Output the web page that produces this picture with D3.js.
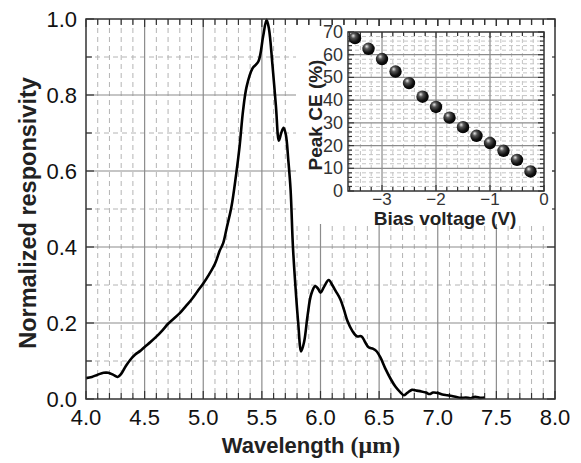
<!DOCTYPE html>
<html><head><meta charset="utf-8">
<script src="https://cdn.jsdelivr.net/npm/d3@7"></script>
<style>body{margin:0;background:#fff}svg{display:block;font-family:"Liberation Sans",Arial,sans-serif}</style>
</head><body><svg id="c" width="581" height="463"></svg>
<script>
// Main spectrum
const wavelength = [4.00,4.05,4.10,4.15,4.19,4.23,4.27,4.30,4.34,4.38,4.42,4.46,4.50,4.55,4.60,4.65,4.70,4.75,4.80,4.85,4.90,4.95,5.00,5.05,5.10,5.14,5.17,5.20,5.24,5.28,5.31,5.34,5.37,5.42,5.47,5.51,5.54,5.56,5.59,5.62,5.645,5.665,5.685,5.705,5.725,5.745,5.765,5.79,5.81,5.835,5.86,5.89,5.92,5.955,5.98,6.00,6.03,6.07,6.10,6.13,6.17,6.20,6.23,6.27,6.31,6.35,6.38,6.41,6.45,6.48,6.51,6.55,6.60,6.64,6.68,6.71,6.74,6.78,6.82,6.86,6.90,6.93,6.96,7.00,7.04,7.08,7.12,7.16,7.20,7.24,7.28,7.32,7.36,7.40];
const responsivity = [0.055,0.058,0.064,0.069,0.069,0.064,0.058,0.066,0.087,0.104,0.117,0.126,0.137,0.150,0.164,0.180,0.198,0.212,0.226,0.244,0.262,0.283,0.304,0.328,0.356,0.390,0.410,0.450,0.505,0.590,0.665,0.760,0.822,0.870,0.888,0.953,0.998,0.975,0.880,0.770,0.680,0.700,0.714,0.695,0.630,0.550,0.400,0.280,0.200,0.125,0.150,0.220,0.275,0.297,0.290,0.280,0.295,0.313,0.300,0.284,0.262,0.235,0.205,0.180,0.165,0.165,0.150,0.136,0.132,0.125,0.110,0.082,0.052,0.032,0.018,0.010,0.016,0.024,0.022,0.020,0.017,0.013,0.017,0.016,0.012,0.010,0.008,0.005,0.003,0.004,0.002,0.006,0.003,0.004];
const xTicks = [4.0,4.5,5.0,5.5,6.0,6.5,7.0,7.5,8.0];
const yTicks = [0.0,0.2,0.4,0.6,0.8,1.0];
// Inset
const biasVoltage = [-3.5,-3.25,-3.0,-2.75,-2.5,-2.25,-2.0,-1.75,-1.5,-1.25,-1.0,-0.75,-0.5,-0.25];
const peakCE = [67.3,62.6,58.1,52.6,47.5,41.5,37.0,32.3,28.1,24.3,21.1,17.7,13.7,8.6];
const insetXTicks = [-3,-2,-1,0];
const insetYTicks = [0,10,20,30,40,50,60,70];

const svg = d3.select("#c");
const M = {l:86, r:555, t:19, b:399};
const x = d3.scaleLinear().domain([4,8]).range([M.l,M.r]);
const y = d3.scaleLinear().domain([0,1]).range([M.b,M.t]);

const defs = svg.append("defs");
const grad = defs.append("radialGradient").attr("id","ball").attr("cx","40%").attr("cy","38%").attr("r","65%").attr("fx","35%").attr("fy","30%");
grad.append("stop").attr("offset","0%").attr("stop-color","#e8e8e8");
grad.append("stop").attr("offset","30%").attr("stop-color","#555");
grad.append("stop").attr("offset","70%").attr("stop-color","#111");
grad.append("stop").attr("offset","100%").attr("stop-color","#000");

const g = svg.append("g");
// minor grid
const xMinor = d3.range(41,80).map(d=>d/10).filter(d=>Math.abs(d*2-Math.round(d*2))>1e-6);
const yMinor = d3.range(1,10).map(d=>d/10).filter(d=>Math.abs(d*5-Math.round(d*5))>1e-6);
g.selectAll(".vm").data(xMinor).join("line").attr("x1",d=>x(d)).attr("x2",d=>x(d)).attr("y1",M.t).attr("y2",M.b)
  .attr("stroke","#b4b4b4").attr("stroke-width",1).attr("stroke-dasharray","5,4");
g.selectAll(".hm").data(yMinor).join("line").attr("y1",d=>y(d)).attr("y2",d=>y(d)).attr("x1",M.l).attr("x2",M.r)
  .attr("stroke","#b4b4b4").attr("stroke-width",1).attr("stroke-dasharray","5,4");
// major grid
g.selectAll(".vM").data(xTicks.slice(1,-1)).join("line").attr("x1",d=>x(d)).attr("x2",d=>x(d)).attr("y1",M.t).attr("y2",M.b)
  .attr("stroke","#8c8c8c").attr("stroke-width",1.2);
g.selectAll(".hM").data(yTicks.slice(1,-1)).join("line").attr("y1",d=>y(d)).attr("y2",d=>y(d)).attr("x1",M.l).attr("x2",M.r)
  .attr("stroke","#8c8c8c").attr("stroke-width",1.2);

// ticks inward all sides
const allX = d3.range(40,81).map(d=>d/10);
const allY = d3.range(0,11).map(d=>d/10);
const tk = svg.append("g").attr("stroke","#333").attr("stroke-width",1.2);
allX.forEach(v=>{
  const L = Math.abs(v*2-Math.round(v*2))<1e-6 ? 8 : 6;
  tk.append("line").attr("x1",x(v)).attr("x2",x(v)).attr("y1",M.b).attr("y2",M.b-L);
  tk.append("line").attr("x1",x(v)).attr("x2",x(v)).attr("y1",M.t).attr("y2",M.t+L);
});
allY.forEach(v=>{
  const L = Math.abs(v*5-Math.round(v*5))<1e-6 ? 8 : 6;
  tk.append("line").attr("y1",y(v)).attr("y2",y(v)).attr("x1",M.l).attr("x2",M.l+L);
  tk.append("line").attr("y1",y(v)).attr("y2",y(v)).attr("x1",M.r).attr("x2",M.r-L);
});

// curve
const line = d3.line().x((d,i)=>x(wavelength[i])).y(d=>y(d)).curve(d3.curveCatmullRom.alpha(0.5));
svg.append("path").datum(responsivity).attr("d",line).attr("fill","none").attr("stroke","#000").attr("stroke-width",2.6).attr("stroke-linejoin","round");

// frame
svg.append("rect").attr("x",M.l).attr("y",M.t).attr("width",M.r-M.l).attr("height",M.b-M.t).attr("fill","none").attr("stroke","#333").attr("stroke-width",1.5);

// tick labels
svg.append("g").selectAll("text").data(xTicks).join("text").attr("x",d=>x(d)).attr("y",M.b+26)
  .attr("text-anchor","middle").attr("font-size",22).attr("fill","#111").text(d=>d.toFixed(1));
svg.append("g").selectAll("text").data(yTicks).join("text").attr("x",M.l-9).attr("y",d=>y(d)+8)
  .attr("text-anchor","end").attr("font-size",22).attr("fill","#111").text(d=>d.toFixed(1));

// axis titles
const xt = svg.append("text").attr("x",311).attr("y",453).attr("text-anchor","middle").attr("font-size",22).attr("font-weight","bold").attr("fill","#222");
xt.append("tspan").text("Wavelength ");
xt.append("tspan").attr("font-family","'Liberation Serif','Times New Roman',serif").attr("font-size",24).text("(μm)");
svg.append("text").attr("transform","translate(36,213) rotate(-90)").attr("text-anchor","middle").attr("font-size",23.5).attr("font-weight","bold").attr("fill","#222").text("Normalized responsivity");

// ===== Inset =====
svg.append("rect").attr("x",296).attr("y",26).attr("width",256).attr("height",198).attr("fill","#fff");
allX.filter(v=>x(v)>=296 && x(v)<=552).forEach(v=>{
  const L = Math.abs(v*2-Math.round(v*2))<1e-6 ? 8 : 6;
  tk.append("line").attr("x1",x(v)).attr("x2",x(v)).attr("y1",M.t).attr("y2",M.t+L);
});
const I = {l:348, r:544, t:32, b:191};
const ix = d3.scaleLinear().domain([-3.63,0]).range([I.l,I.r]);
const iy = d3.scaleLinear().domain([0,70]).range([I.b,I.t]);
const ig = svg.append("g");
const ixMinor = d3.range(-18,0).map(d=>d/5).filter(d=>Math.abs(d-Math.round(d))>1e-6 && ix(d)>I.l);
const iyMinor = d3.range(1,35).map(d=>d*2).filter(d=>d%10!==0);
ig.selectAll(".ivm").data(ixMinor).join("line").attr("x1",d=>ix(d)).attr("x2",d=>ix(d)).attr("y1",I.t).attr("y2",I.b)
  .attr("stroke","#c4c4c4").attr("stroke-width",1).attr("stroke-dasharray","4,3");
ig.selectAll(".ihm").data(iyMinor).join("line").attr("y1",d=>iy(d)).attr("y2",d=>iy(d)).attr("x1",I.l).attr("x2",I.r)
  .attr("stroke","#c4c4c4").attr("stroke-width",1).attr("stroke-dasharray","4,3");
ig.selectAll(".ivM").data(insetXTicks.slice(0,-1)).join("line").attr("x1",d=>ix(d)).attr("x2",d=>ix(d)).attr("y1",I.t).attr("y2",I.b)
  .attr("stroke","#8c8c8c").attr("stroke-width",1.2);
ig.selectAll(".ihM").data(insetYTicks.slice(1,-1)).join("line").attr("y1",d=>iy(d)).attr("y2",d=>iy(d)).attr("x1",I.l).attr("x2",I.r)
  .attr("stroke","#8c8c8c").attr("stroke-width",1.2);
const itk = svg.append("g").attr("stroke","#333").attr("stroke-width",1.2);
d3.range(-18,1).map(d=>d/5).filter(d=>ix(d)>=I.l).forEach(v=>{
  const L = Math.abs(v-Math.round(v))<1e-6 ? 6 : 4;
  itk.append("line").attr("x1",ix(v)).attr("x2",ix(v)).attr("y1",I.b).attr("y2",I.b-L);
  itk.append("line").attr("x1",ix(v)).attr("x2",ix(v)).attr("y1",I.t).attr("y2",I.t+L);
});
d3.range(0,36).map(d=>d*2).filter(d=>d<=70).forEach(v=>{
  const L = v%10===0 ? 6 : 4;
  itk.append("line").attr("y1",iy(v)).attr("y2",iy(v)).attr("x1",I.l).attr("x2",I.l+L);
  itk.append("line").attr("y1",iy(v)).attr("y2",iy(v)).attr("x1",I.r).attr("x2",I.r-L);
});
svg.append("rect").attr("x",I.l).attr("y",I.t).attr("width",I.r-I.l).attr("height",I.b-I.t).attr("fill","none").attr("stroke","#333").attr("stroke-width",1.5);
svg.append("g").selectAll("circle").data(peakCE).join("circle").attr("cx",(d,i)=>ix(biasVoltage[i])).attr("cy",d=>iy(d)).attr("r",6.2)
  .attr("fill","url(#ball)");
svg.append("g").selectAll("text").data(insetXTicks).join("text").attr("x",d=>ix(d)).attr("y",I.b+14)
  .attr("text-anchor","middle").attr("font-size",17).attr("fill","#333").text(d=>d===0?"0":"\u2212"+Math.abs(d));
svg.append("g").selectAll("text").data(insetYTicks).join("text").attr("x",I.l-5).attr("y",d=>iy(d)+6)
  .attr("text-anchor","end").attr("font-size",18).attr("fill","#333").text(d=>d);
svg.append("text").attr("x",445).attr("y",225).attr("text-anchor","middle").attr("font-size",19).attr("font-weight","bold").attr("fill","#222").text("Bias voltage (V)");
svg.append("text").attr("transform","translate(322,115) rotate(-90)").attr("text-anchor","middle").attr("font-size",19).attr("font-weight","bold").attr("fill","#222").text("Peak CE (%)");
</script></body></html>
